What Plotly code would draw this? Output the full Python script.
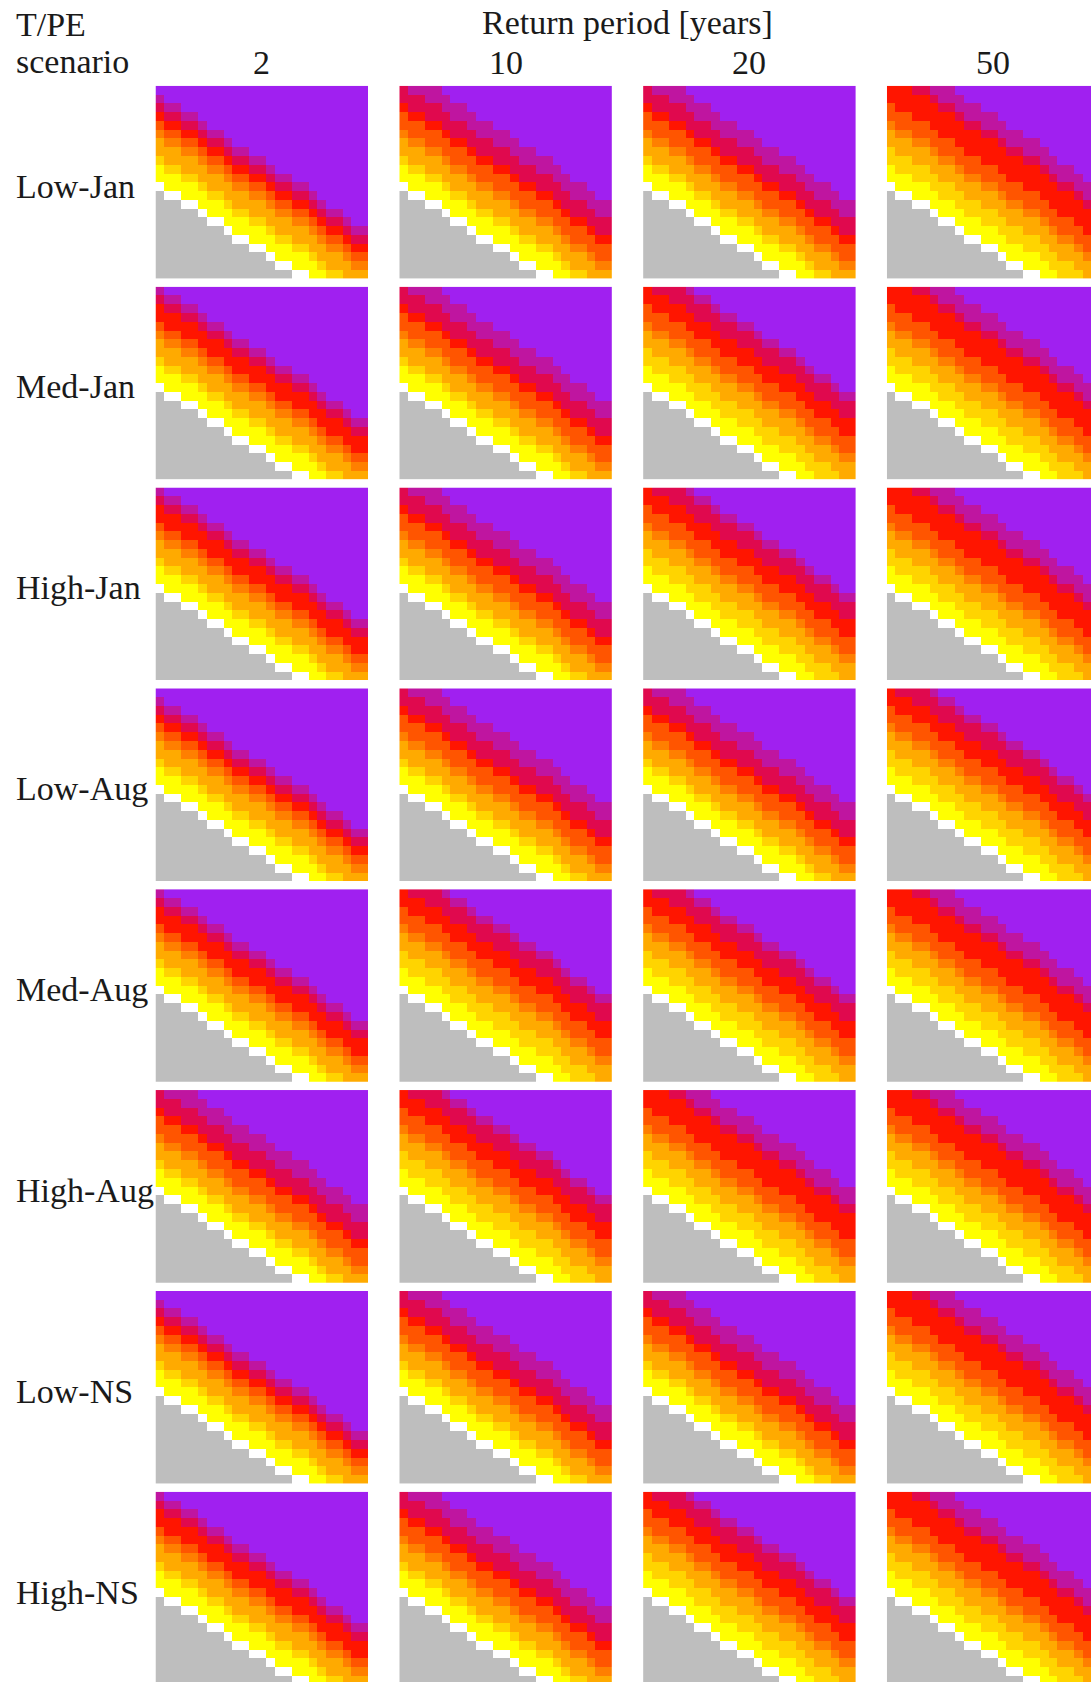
import plotly.graph_objects as go

W, H = 1091, 1682

scenarios = ["Low-Jan", "Med-Jan", "High-Jan", "Low-Aug", "Med-Aug", "High-Aug", "Low-NS", "High-NS"]
return_periods = ["2", "10", "20", "50"]

# Grid level of every cell (22 rows x 25 columns, base-36 digits):
# 0 = gray area, 1 = white edge, 2 and up = coloured steps away from the edge.
level_rows = [
    "cddeefgghiijjkllmmnoppqrr",
    "bccddeffghhiijkkllmnoopqq",
    "abbccdeefgghhijjkklmnnopp",
    "9aabbcddeffgghiijjklmmnoo",
    "899aabccdeeffghhiijkllmnn",
    "78899abbcddeefgghhijkklmm",
    "677889aabccddeffgghijjkll",
    "56677899abbccdeeffghiijkk",
    "455667889aabbcddeefghhijj",
    "34455677899aabccddefgghii",
    "2334456678899abbccdeffghh",
    "12233455677889aabbcdeefgg",
    "0112234456677899aabcddeff",
    "000112334556678899abccdee",
    "0000012234455677889abbcdd",
    "00000011233445667789aabcc",
    "0000000012233455667899abb",
    "00000000011223445567889aa",
    "0000000000011233445677899",
    "0000000000000122334566788",
    "0000000000000011223455677",
    "0000000000000000112344566",
]

# Colour class of each coloured level (first char = level 2); higher levels are purple.
low_jan = ["YYDAAONRCM", "YYDAAONNRCCMM", "YYDAAONNRCCMM", "YYDDAAONNRRRCMM"]
med_jan = ["YYDAAONRRCM", "YYDAAONNRCCMM", "YYDDAAONNRRCCM", "YYDDAAONNRRRCMM"]
high_jan = ["YYDAAONRRCM", "YYDAAONNRCCMM", "YYDDAAONNRRCCM", "YYDDAAONNRRRCMM"]
low_aug = ["YYDAAONRCM", "YYDAAONNRCCMM", "YYDAAONNRCCMM", "YYDDAAONNRRCCM"]
med_aug = ["YYDAAONRRCM", "YYDDAAONNRRCCM", "YYDDAAONNRRCCM", "YYDDAAONNRRRCMM"]
high_aug = ["YYDAAONNRCCMM", "YYDDAAONNRRCCM", "YYDDAAONNRRRCMM", "YYDDAAONNRRRCMM"]
low_ns = ["YYDAAONRCM", "YYDAAONNRCCMM", "YYDAAONNRCCMM", "YYDDAAONNRRRCMM"]
high_ns = ["YYDAAONRRCM", "YYDAAONNRCCMM", "YYDDAAONNRRCCM", "YYDDAAONNRRRCMM"]

panel_codes = [low_jan, med_jan, high_jan, low_aug, med_aug, high_aug, low_ns, high_ns]

class_order = "GWYDAONRCMP"
class_colors = ["#bebebe", "#ffffff", "#ffff00", "#ffd400", "#ffaa00", "#ff7f00",
                "#ff5500", "#ff1500", "#e0094e", "#bf15a0", "#a020f0"]

N_ROWS, N_COLS = len(level_rows), len(level_rows[0])
assert all(len(r) == N_COLS for r in level_rows)
CELL_W, CELL_H = 8.5, 8.755
PANEL_W, PANEL_H = N_COLS * CELL_W, N_ROWS * CELL_H
col_left = [155.5, 399.3, 643.1, 886.9]
row_top = [85.8 + 200.85 * r for r in range(8)]

# discrete colour scale, one flat band per class
n_cls = len(class_colors)
colorscale = []
for k, c in enumerate(class_colors):
    colorscale.append([k / n_cls, c])
    colorscale.append([(k + 1) / n_cls, c])


def panel_matrix(code):
    z = []
    for row in level_rows:
        out = []
        for ch in row:
            lv = int(ch, 36)
            if lv == 0:
                cls = "G"
            elif lv == 1:
                cls = "W"
            elif lv - 2 < len(code):
                cls = code[lv - 2]
            else:
                cls = "P"
            out.append(class_order.index(cls))
        z.append(out)
    return z


fig = go.Figure()
layout = {}
n = 0
for r, codes in enumerate(panel_codes):
    for c, code in enumerate(codes):
        n += 1
        xa = "x" if n == 1 else f"x{n}"
        ya = "y" if n == 1 else f"y{n}"
        left, top = col_left[c], row_top[r]
        right = min(left + PANEL_W, W)
        bottom = min(top + PANEL_H, H)
        fig.add_trace(go.Heatmap(
            z=panel_matrix(code),
            x=list(range(N_COLS)), y=list(range(N_ROWS)),
            colorscale=colorscale, zmin=-0.5, zmax=n_cls - 0.5,
            showscale=False, hoverinfo="skip", xaxis=xa, yaxis=ya,
        ))
        layout["xaxis" if n == 1 else f"xaxis{n}"] = dict(
            domain=[left / W, right / W],
            range=[-0.5, -0.5 + (right - left) / CELL_W],
            visible=False, fixedrange=True, anchor=ya,
        )
        layout["yaxis" if n == 1 else f"yaxis{n}"] = dict(
            domain=[1 - bottom / H, 1 - top / H],
            range=[-0.5 + (bottom - top) / CELL_H, -0.5],
            visible=False, fixedrange=True, anchor=xa,
        )

font = dict(family="Liberation Serif", size=34, color="#1a1a1a")
ann = []


def add_text(text, x_px, y_px, xanchor="left"):
    ann.append(dict(text=text, x=x_px / W, y=1 - y_px / H, xref="paper", yref="paper",
                    xanchor=xanchor, yanchor="middle", showarrow=False, font=font))


add_text("T/PE", 14, 24)
add_text("scenario", 14, 61)
add_text("Return period [years]", col_left[0] + (col_left[3] + PANEL_W - col_left[0]) / 2, 22, "center")
for c, rp in enumerate(return_periods):
    add_text(rp, col_left[c] + PANEL_W / 2, 63, "center")
for r, name in enumerate(scenarios):
    add_text(name, 14, row_top[r] + PANEL_H / 2 + 4)

fig.update_layout(
    width=W, height=H, margin=dict(l=0, r=0, t=0, b=0),
    paper_bgcolor="white", plot_bgcolor="white",
    annotations=ann, showlegend=False, **layout,
)

fig.write_html("out.html")
